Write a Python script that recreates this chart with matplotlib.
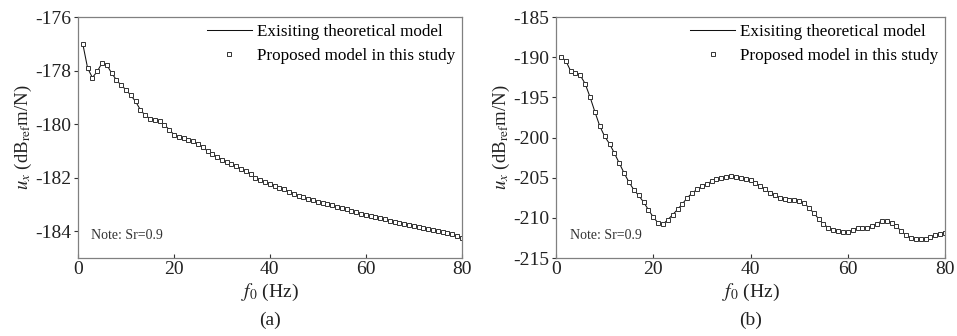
import matplotlib.pyplot as plt
import numpy as np

plt.rcParams['font.family'] = ['Liberation Serif', 'DejaVu Serif']
plt.rcParams['mathtext.fontset'] = 'stix'
plt.rcParams['axes.unicode_minus'] = False

f0 = np.arange(1, 81)

# panel (a)
ux_a = [-177.0, -177.9, -178.26, -178.03, -177.72, -177.78, -178.09, -178.34, -178.55, -178.71,
        -178.92, -179.15, -179.46, -179.67, -179.79, -179.83, -179.89, -180.02, -180.2, -180.39,
        -180.48, -180.51, -180.58, -180.64, -180.75, -180.85, -181.0, -181.1, -181.22, -181.32,
        -181.41, -181.5, -181.57, -181.66, -181.76, -181.85, -182.0, -182.09, -182.17, -182.22,
        -182.29, -182.37, -182.43, -182.52, -182.59, -182.68, -182.73, -182.79, -182.84, -182.89,
        -182.93, -182.98, -183.03, -183.08, -183.13, -183.18, -183.23, -183.28, -183.34, -183.39,
        -183.43, -183.48, -183.51, -183.55, -183.6, -183.64, -183.69, -183.72, -183.76, -183.8,
        -183.84, -183.87, -183.91, -183.96, -184.0, -184.03, -184.08, -184.12, -184.17, -184.25]

# panel (b)
ux_b = [-190.0, -190.4, -191.7, -191.97, -192.26, -193.3, -194.96, -196.8, -198.57, -199.85,
        -200.77, -201.93, -203.17, -204.42, -205.54, -206.5, -207.2, -208.03, -208.98, -209.9,
        -210.64, -210.8, -210.22, -209.6, -208.94, -208.24, -207.49, -206.91, -206.45, -206.08,
        -205.75, -205.46, -205.21, -205.0, -204.88, -204.83, -204.88, -205.0, -205.12, -205.33,
        -205.62, -206.04, -206.45, -206.87, -207.2, -207.49, -207.7, -207.82, -207.82, -207.9,
        -208.15, -208.73, -209.4, -210.1, -210.8, -211.2, -211.47, -211.64, -211.76, -211.76,
        -211.55, -211.2, -211.2, -211.2, -211.0, -210.7, -210.4, -210.4, -210.6, -211.05,
        -211.64, -212.18, -212.5, -212.68, -212.68, -212.6, -212.4, -212.18, -211.97, -211.85]

panels = [
    (ux_a, (-185, -176), [-176, -178, -180, -182, -184], '(a)', [0.0815, 0.232, 0.401, 0.717]),
    (ux_b, (-215, -185), [-185, -190, -195, -200, -205, -210, -215], '(b)', [0.581, 0.232, 0.4065, 0.717]),
]

fig = plt.figure(figsize=(9.57, 3.36), dpi=100)
for ux, ylim, yticks, tag, pos in panels:
    ax = fig.add_axes(pos)
    ax.plot(f0, ux, color='#111111', lw=0.75, label='Exisiting theoretical model')
    ax.plot(f0, ux, ls='none', marker='s', ms=2.6, mfc='white', mec='#333333', mew=0.7,
            label='Proposed model in this study')
    ax.set_xlim(0, 80)
    ax.set_ylim(*ylim)
    ax.set_xticks([0, 20, 40, 60, 80])
    ax.set_yticks(yticks)
    ax.tick_params(axis='x', direction='in', length=3, labelsize=14, colors='#333333', pad=2)
    ax.tick_params(axis='y', direction='out', length=3, labelsize=14, colors='#333333', pad=2)
    ax.tick_params(labelcolor='#222222')
    for s in ax.spines.values():
        s.set_color('#808080')
        s.set_linewidth(0.9)
    ax.set_xlabel(r'$f_0$ (Hz)', fontsize=14, color='#222222')
    ax.xaxis.set_label_coords(0.5, -0.1)
    ax.set_ylabel(r'$u_x$ (dB$_{\rm ref}$m/N)', fontsize=13.5, labelpad=1, color='#222222')
    ax.text(0.035, 0.08, 'Note: Sr=0.9', transform=ax.transAxes, fontsize=10, color='#333333')
    ax.text(0.5, -0.26, tag, transform=ax.transAxes, ha='center', va='center', fontsize=14,
            color='#222222')
    ax.legend(loc='upper right', frameon=False, fontsize=12.3, handlelength=2.6,
              borderaxespad=0.0, handletextpad=0.3, labelspacing=0.45, markerscale=0.9)

fig.savefig('out.png', dpi=100)
